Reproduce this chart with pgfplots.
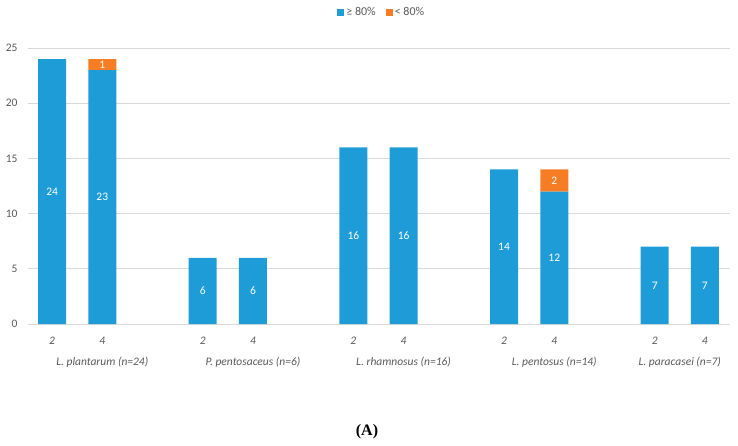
\documentclass[border=0pt]{standalone}
\usepackage{pgfplots}
\pgfplotsset{compat=1.18}
\usepackage{fontspec}
\setmainfont{Carlito}
\newfontfamily\capfont{Liberation Serif}
\definecolor{barblue}{RGB}{29,156,216}
\definecolor{barorange}{RGB}{246,125,36}
\definecolor{tickgray}{RGB}{89,89,89}
\definecolor{gridgray}{RGB}{217,217,217}

% value labels: white, in the middle of each segment, none for zero segments
\pgfplotsset{
  barlabels/.style={
    nodes near coords={\pgfmathfloatifflags{\pgfplotspointmeta}{0}{}{\pgfmathprintnumber{\pgfplotspointmeta}}},
    every node near coord/.style={anchor=center, text=white,
      font=\fontsize{11.5}{13}\selectfont},
  },
}

\begin{document}
\begin{tikzpicture}
\useasboundingbox (-28pt,-121pt) rectangle (710pt,324pt);
\begin{axis}[
  /pgf/number format/assume math mode=true,
  scale only axis, width=702pt, height=276pt,
  ybar stacked, bar width=28pt,
  xmin=-0.48, xmax=13.5, ymin=0, ymax=25,
  ytick={0,5,...,25},
  xtick={0,1,3,4,6,7,9,10,12,13},
  xticklabels={2,4,2,4,2,4,2,4,2,4},
  extra x ticks={1,4,7,10,12.5},
  extra x tick labels={{L. plantarum (n=24)},{P. pentosaceus (n=6)},{L. rhamnosus (n=16)},{L. pentosus (n=14)},{L. paracasei (n=7)}},
  extra x tick style={tick label style={yshift=-20pt, font=\itshape\fontsize{10}{12}\selectfont}},
  x tick label style={font=\itshape\fontsize{11.5}{13}\selectfont, text=tickgray, yshift=-10pt},
  y tick label style={font=\fontsize{11.5}{13}\selectfont, text=tickgray, xshift=-7pt},
  major tick length=0pt,
  axis x line*=bottom, axis y line*=left,
  y axis line style={draw=none},
  x axis line style={gridgray, line width=0.8pt},
  ymajorgrids, grid style={gridgray, line width=0.8pt},
  legend style={at={(0.504,1.1304)}, anchor=center, draw=none, fill=none,
    legend columns=2, font=\fontsize{12}{14}\selectfont, text=tickgray,
    /tikz/every even column/.append style={column sep=8pt}},
  legend image code/.code={\fill[#1] (0pt,-3.5pt) rectangle (7pt,3.5pt);},
]
\addplot[fill=barblue, draw=none, barlabels] coordinates {
  (0,24) (1,23) (3,6) (4,6) (6,16) (7,16) (9,14) (10,12) (12,7) (13,7)
};
\addlegendentry{≥ 80\%}
\addplot[fill=barorange, draw=none, barlabels] coordinates {
  (0,0) (1,1) (3,0) (4,0) (6,0) (7,0) (9,0) (10,2) (12,0) (13,0)
};
\addlegendentry{< 80\%}
\end{axis}
\node[font=\capfont\bfseries\fontsize{16}{18}\selectfont] at (339pt,-108pt) {(A)};
\end{tikzpicture}
\end{document}
